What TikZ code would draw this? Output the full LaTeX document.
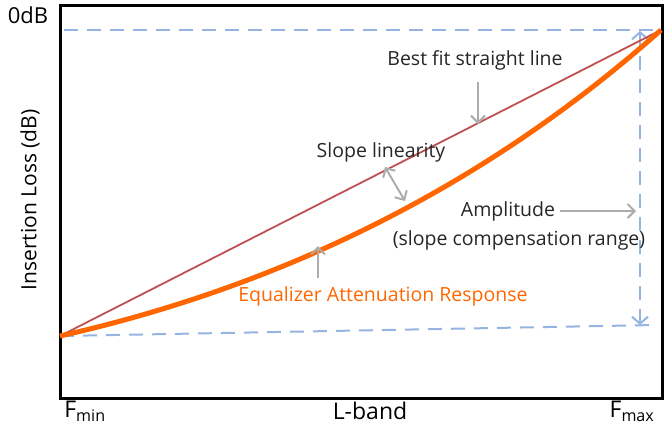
\documentclass[tikz,border=0pt]{standalone}
\usepackage{fontspec}
\setmainfont{Open Sans}
\usetikzlibrary{arrows.meta}
\begin{document}
\begin{tikzpicture}[x=1pt,y=-1pt,
  lbl/.style={font=\fontsize{19.5}{22}\selectfont, text=black!85},
  garrow/.style={draw=gray!65, line width=2pt, -{Straight Barb[length=7pt,width=14pt]}}]
\useasboundingbox (0,0) rectangle (665,429);
\definecolor{bl}{RGB}{150,180,225}
\definecolor{orng}{RGB}{255,102,0}
\definecolor{brn}{RGB}{190,80,80}
\coordinate (A) at (60,336);
\coordinate (B) at (661,30);
\draw[line width=3pt] (60,5) rectangle (662,398);
\draw[bl, line width=2pt, dash pattern=on 14pt off 9pt] (64,30) -- (656,30);
\draw[bl, line width=2pt, dash pattern=on 14pt off 9pt] (A) -- (656,325);
\draw[bl, line width=2pt, dash pattern=on 14pt off 9pt, {Straight Barb[length=7pt,width=16pt]}-{Straight Barb[length=7pt,width=16pt]}] (640,31) -- (640,325);
\draw[brn, line width=1.8pt] (A) -- (B);
\draw[orng, line width=5pt] (A) .. controls (260,291) and (470,200) .. (B);
\node[lbl] (bf) at (475,60) {Best fit straight line};
\node[lbl] (sl) at (381,152) {Slope linearity};
\node[lbl] (am) at (508,211) {Amplitude};
\node[lbl] (sc) at (519,240) {(slope compensation range)};
\node[lbl, text=orng] (eq) at (383,296) {Equalizer Attenuation Response};
\coordinate (p1) at (478,82); \coordinate (p2) at (478,124);
\draw[garrow] (p1) -- (p2);
\coordinate (q1) at (385,167); \coordinate (q2) at (405,201);
\draw[garrow, {Straight Barb[length=7pt,width=14pt]}-{Straight Barb[length=7pt,width=14pt]}] (q1) -- (q2);
\coordinate (r1) at (560,211); \coordinate (r2) at (636,211);
\draw[garrow] (r1) -- (r2);
\coordinate (s1) at (318,278); \coordinate (s2) at (318,246);
\draw[garrow] (s1) -- (s2);
\node[font=\fontsize{22}{24}\selectfont] (zd) at (28,15) {0dB};
\node[font=\fontsize{21}{23}\selectfont, rotate=90] (il) at (30,200) {Insertion Loss (dB)};
\node[font=\fontsize{23}{25}\selectfont] (fmin) at (85,411) {F\textsubscript{min}};
\node[font=\fontsize{23}{25}\selectfont] (lb) at (370,411) {L-band};
\node[font=\fontsize{23}{25}\selectfont] (fmax) at (632,411) {F\textsubscript{max}};
\end{tikzpicture}
\end{document}
